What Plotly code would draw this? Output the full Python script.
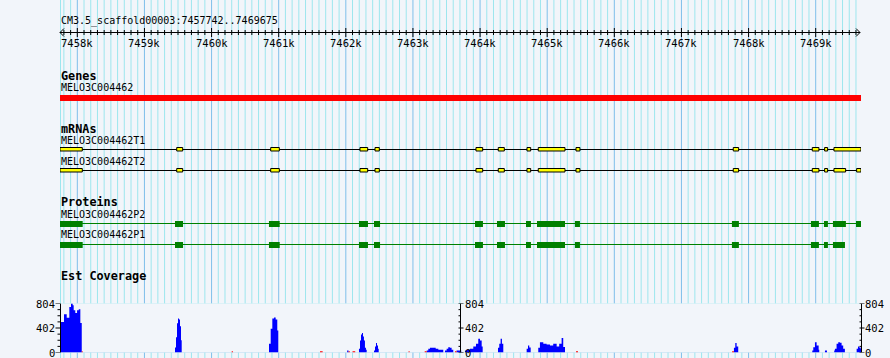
import plotly.graph_objects as go

# ---------------- data ----------------
REGION_START = 7457742
REGION_END = 7469675
TITLE = "CM3.5_scaffold00003:7457742..7469675"

major_ticks = [7458000, 7459000, 7460000, 7461000, 7462000, 7463000,
               7464000, 7465000, 7466000, 7467000, 7468000, 7469000]
major_labels = ["7458k", "7459k", "7460k", "7461k", "7462k", "7463k",
                "7464k", "7465k", "7466k", "7467k", "7468k", "7469k"]

track_titles = ["Genes", "mRNAs", "Proteins", "Est Coverage"]

gene_name = "MELO3C004462"
gene_start = 7457742
gene_end = 7469675

t1_name = "MELO3C004462T1"
t1_starts = [7457742, 7459481, 7460881, 7462211, 7462435, 7463939, 7464271,
             7464699, 7464867, 7465429, 7467772, 7468949, 7469133, 7469272]
t1_ends = [7458074, 7459570, 7461009, 7462326, 7462499, 7464039, 7464361,
           7464754, 7465265, 7465488, 7467852, 7469048, 7469178, 7469675]

t2_name = "MELO3C004462T2"
t2_starts = [7457742, 7459481, 7460881, 7462211, 7462435, 7463939, 7464271,
             7464699, 7464867, 7465429, 7467772, 7468949, 7469133, 7469272, 7469610]
t2_ends = [7458074, 7459570, 7461009, 7462326, 7462499, 7464039, 7464361,
           7464754, 7465265, 7465488, 7467852, 7469048, 7469178, 7469446, 7469675]

p2_name = "MELO3C004462P2"
p2_starts = [7457742, 7459455, 7460855, 7462196, 7462420, 7463924, 7464252,
             7464684, 7464848, 7465413, 7467752, 7468929, 7469123, 7469257, 7469600]
p2_ends = [7458080, 7459575, 7461015, 7462330, 7462510, 7464043, 7464371,
           7464758, 7465265, 7465488, 7467856, 7469048, 7469182, 7469450, 7469675]

p1_name = "MELO3C004462P1"
p1_starts = [7457742, 7459455, 7460855, 7462196, 7462420, 7463924, 7464252,
             7464684, 7464848, 7465413, 7467752, 7468929, 7469123, 7469257]
p1_ends = [7458080, 7459575, 7461015, 7462330, 7462510, 7464043, 7464371,
           7464758, 7465265, 7465488, 7467856, 7469048, 7469182, 7469436]

cov_max = 804
cov_labels = [0, 402, 804]
cov_pos = [7457742, 7457802, 7457842, 7457881, 7457906, 7457931, 7457946, 7457970,
           7457996, 7458021, 7458045, 7458066,
           7459455, 7459470, 7459485, 7459500, 7459515, 7459530, 7459545, 7459555,
           7460856, 7460881, 7460905, 7460930, 7460955, 7460979, 7460994,
           7462020, 7462040,
           7462196, 7462211, 7462226, 7462241, 7462256, 7462270, 7462285, 7462300, 7462311,
           7462420, 7462435, 7462450, 7462465, 7462479, 7462490,
           7463205, 7463229, 7463254, 7463303, 7463339, 7463378, 7463429, 7463452,
           7463477, 7463502, 7463526, 7463551, 7463576, 7463601,
           7463650, 7463720,
           7463775, 7463800, 7463850, 7463899, 7463939, 7463973, 7463999, 7464024, 7464039,
           7464267, 7464286, 7464306, 7464326, 7464346,
           7464694, 7464714, 7464733, 7464754,
           7464867, 7464892, 7464942, 7464991, 7465041, 7465090, 7465141, 7465179,
           7465215, 7465239, 7465265,
           7467782, 7467802, 7467822, 7467846,
           7468949, 7468964, 7468989, 7469014, 7469044, 7469053,
           7469138, 7469168,
           7469276, 7469286, 7469311, 7469336, 7469361, 7469386, 7469410, 7469435,
           7469610, 7469630, 7469649, 7469670, 7469675]
cov_val = [500, 627, 572, 748, 804, 775, 693, 649,
           693, 710, 484, 0,
           80, 250, 480, 556, 540, 430, 200, 0,
           143, 391, 556, 573, 540, 363, 0,
           33, 0,
           60, 198, 297, 319, 264, 198, 77, 44, 0,
           33, 99, 154, 115, 60, 0,
           33, 60, 77, 77, 60, 44, 44, 0,
           33, 60, 88, 77, 44, 0,
           33, 0,
           33, 44, 60, 99, 143, 225, 198, 99, 0,
           77, 143, 225, 143, 0,
           60, 115, 80, 0,
           77, 170, 143, 132, 115, 143, 99, 143,
           236, 90, 0,
           77, 154, 99, 0,
           33, 88, 170, 115, 44, 0,
           33, 0,
           33, 60, 143, 170, 160, 115, 60, 0,
           60, 99, 80, 60, 60]
low_starts = [7458066, 7460300, 7461615, 7462040, 7462100, 7462935, 7463175,
              7463626, 7465429, 7467755]
low_ends = [7458080, 7460318, 7461655, 7462060, 7462140, 7462950, 7463205,
            7463650, 7465459, 7467782]

# ---------------- styling ----------------
W, H = 890, 358
ML, MR = 60, 29
PW = W - ML - MR
BG = "#f2f5fa"
GRID_MINOR = "#9de6ee"
GRID_MAJOR = "#7fbfea"
MONO = "DejaVu Sans Mono"

def pfx(px):
    return (px - ML) / PW

shapes = []
annotations = []

# vertical grid
shapes.append(dict(type="line", xref="paper", yref="paper", x0=pfx(60.5), x1=pfx(60.5),
                   y0=0, y1=1, line=dict(color=GRID_MINOR, width=1), layer="below"))
for p in range(7457800, REGION_END, 100):
    col = GRID_MAJOR if p % 1000 == 0 else GRID_MINOR
    shapes.append(dict(type="line", xref="x", yref="paper", x0=p, x1=p, y0=0, y1=1,
                       line=dict(color=col, width=1), layer="below"))

# coverage horizontal grid
for k in range(1, 9):
    v = cov_max * k / 8
    shapes.append(dict(type="line", xref="paper", yref="y2", x0=0, x1=1, y0=v, y1=v,
                       line=dict(color=GRID_MINOR, width=1), layer="below"))
shapes.append(dict(type="line", xref="paper", yref="y2", x0=0, x1=1, y0=0, y1=0,
                   line=dict(color=GRID_MAJOR, width=1), layer="below"))

# scale bar
SY = 32.5
shapes.append(dict(type="line", xref="paper", yref="y", x0=pfx(60), x1=pfx(860), y0=SY, y1=SY,
                   line=dict(color="black", width=1)))
for (a, b) in [(pfx(60), pfx(64)), (pfx(860), pfx(856))]:
    shapes.append(dict(type="line", xref="paper", yref="y", x0=a, x1=b, y0=SY, y1=SY - 4,
                       line=dict(color="black", width=1)))
    shapes.append(dict(type="line", xref="paper", yref="y", x0=a, x1=b, y0=SY, y1=SY + 4,
                       line=dict(color="black", width=1)))
for p in range(7457800, REGION_END, 100):
    if p % 1000 == 0:
        y0, y1 = 28, 37
    else:
        y0, y1 = 30, 35
    shapes.append(dict(type="line", xref="x", yref="y", x0=p, x1=p, y0=y0, y1=y1,
                       line=dict(color="black", width=1)))
for p, lab in zip(major_ticks, major_labels):
    annotations.append(dict(x=p, y=42.5, xref="x", yref="y", text=lab, showarrow=False,
                            xanchor="center", yanchor="middle", borderpad=0,
                            font=dict(family=MONO, size=10.5, color="black")))

def label(text, y, bold=False):
    annotations.append(dict(x=0, y=y, xref="paper", yref="y",
                            text=("<b>%s</b>" % text) if bold else text,
                            showarrow=False, xanchor="left", yanchor="middle", borderpad=0,
                            font=dict(family=MONO, size=11.8 if bold else 10, color="black")))

label(TITLE, 21)
label(track_titles[0], 76, True)
label(gene_name, 87.5)
label(track_titles[1], 128.5, True)
label(t1_name, 140)
label(t2_name, 161)
label(track_titles[2], 202, True)
label(p2_name, 214)
label(p1_name, 234.5)
label(track_titles[3], 276, True)

# gene bar
shapes.append(dict(type="rect", xref="x", yref="y", x0=gene_start, x1=gene_end, y0=95, y1=101,
                   fillcolor="#ff0000", line=dict(width=0)))

# transcripts
def transcript(starts, ends, ly):
    shapes.append(dict(type="line", xref="x", yref="y", x0=REGION_START, x1=REGION_END,
                       y0=ly, y1=ly, line=dict(color="black", width=1)))
    for s, e in zip(starts, ends):
        shapes.append(dict(type="rect", xref="x", yref="y", x0=s, x1=e, y0=ly - 2, y1=ly + 1.5,
                           fillcolor="#ffff00", line=dict(color="black", width=1)))

transcript(t1_starts, t1_ends, 149.5)
transcript(t2_starts, t2_ends, 170.5)

def protein(starts, ends, ly, top, bot):
    shapes.append(dict(type="line", xref="x", yref="y", x0=REGION_START, x1=max(ends),
                       y0=ly, y1=ly, line=dict(color="#008000", width=1)))
    for s, e in zip(starts, ends):
        shapes.append(dict(type="rect", xref="x", yref="y", x0=s, x1=e, y0=top, y1=bot,
                           fillcolor="#008000", line=dict(width=0)))

protein(p2_starts, p2_ends, 223.5, 221, 227)
protein(p1_starts, p1_ends, 244.5, 242, 248)

# low-coverage marks
for s, e in zip(low_starts, low_ends):
    shapes.append(dict(type="rect", xref="x", yref="y2", x0=s, x1=e, y0=0, y1=20,
                       fillcolor="#ff0000", line=dict(width=0)))

# coverage axes
def cov_axis(px, side):
    xa = pfx(px)
    shapes.append(dict(type="line", xref="paper", yref="y2", x0=xa, x1=xa, y0=0, y1=cov_max,
                       line=dict(color="black", width=1)))
    for k in range(0, 9):
        v = cov_max * k / 8
        major = k % 4 == 0
        if side == "left":
            x0, x1 = (-5, 0) if major else (-3, 0)
        else:
            x0, x1 = (-2, 3) if major else (-2, 0)
        shapes.append(dict(type="line", xref="paper", yref="y2", xsizemode="pixel", xanchor=xa,
                           x0=x0, x1=x1, y0=v, y1=v, line=dict(color="black", width=1)))
    for v in cov_labels:
        if side == "left":
            annotations.append(dict(x=pfx(px - 5), y=v, xref="paper", yref="y2", text=str(v),
                                    showarrow=False, xanchor="right", yanchor="middle", borderpad=0,
                                    font=dict(family=MONO, size=10.5, color="black")))
        else:
            annotations.append(dict(x=pfx(px + 3), y=v, xref="paper", yref="y2", text=str(v),
                                    showarrow=False, xanchor="left", yanchor="middle", borderpad=0,
                                    font=dict(family=MONO, size=10.5, color="black")))

cov_axis(60.5, "left")
cov_axis(460.5, "right")
cov_axis(861.5, "right")

fig = go.Figure()
fig.add_trace(go.Scatter(x=[REGION_START], y=[0], mode="markers", marker=dict(opacity=0),
                         xaxis="x", yaxis="y", hoverinfo="skip", showlegend=False))
fig.add_trace(go.Scatter(x=cov_pos, y=cov_val, mode="lines", line=dict(shape="hv", width=0, color="#0000ff"),
                         fill="tozeroy", fillcolor="#0000ff", xaxis="x", yaxis="y2",
                         hoverinfo="skip", showlegend=False))

y2_bot = (H - 352.5) / H
y2_top = (H - 303.5) / H
fig.update_layout(
    width=W, height=H, margin=dict(l=ML, r=MR, t=0, b=0, pad=0),
    paper_bgcolor=BG, plot_bgcolor=BG, showlegend=False,
    xaxis=dict(range=[REGION_START, REGION_END], visible=False, fixedrange=True),
    yaxis=dict(range=[H, 0], visible=False, fixedrange=True, domain=[0, 1]),
    yaxis2=dict(range=[0, cov_max], visible=False, fixedrange=True, domain=[y2_bot, y2_top],
                anchor="x"),
    shapes=shapes, annotations=annotations,
)
fig.write_html("out.html", config={"displayModeBar": False},
               post_script="document.body.style.margin='0';document.body.style.padding='0';"
                           "document.body.style.background='%s';" % BG)
